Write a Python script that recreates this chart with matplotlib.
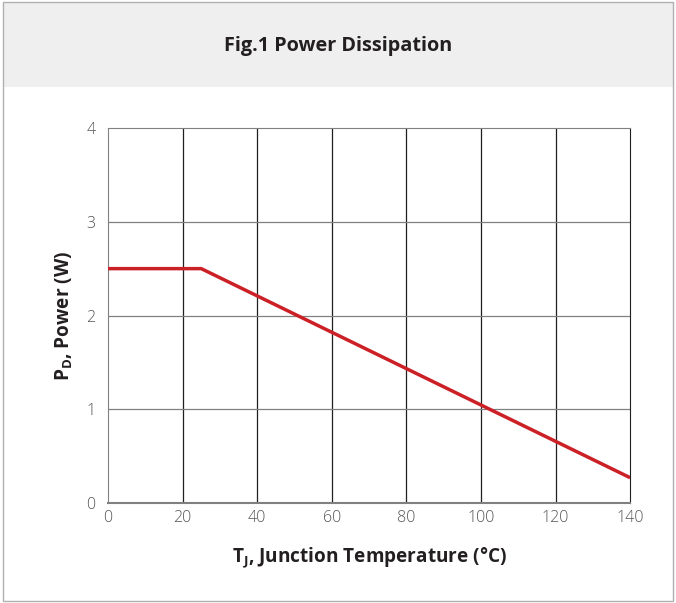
import matplotlib.pyplot as plt
from matplotlib.patches import Rectangle

# derating curve
temp_c = [0, 25, 140]
power_w = [2.5, 2.5, 0.27]
x_ticks = [0, 20, 40, 60, 80, 100, 120, 140]
y_ticks = [0, 1, 2, 3, 4]

plt.rcParams['font.family'] = ['Open Sans', 'DejaVu Sans']
plt.rcParams['mathtext.fontset'] = 'custom'
plt.rcParams['mathtext.bf'] = 'Open Sans:bold'
plt.rcParams['mathtext.rm'] = 'Open Sans'

fig = plt.figure(figsize=(6.76, 6.03), dpi=100)
fig.patch.set_facecolor('white')

# header band and outer frame
fig.patches.append(Rectangle((0.004, 0.856), 0.992, 0.14, transform=fig.transFigure,
                             facecolor='#efefef', edgecolor='none', zorder=0))
fig.patches.append(Rectangle((0.004, 0.004), 0.992, 0.992, transform=fig.transFigure,
                             facecolor='none', edgecolor='#b0b0b0', lw=1.0, zorder=1))
fig.text(0.5, 0.924, 'Fig.1 Power Dissipation', ha='center', va='center',
         fontsize=14.3, fontweight='bold', color='#231f20')

ax = fig.add_axes([0.1598, 0.1658, 0.7724, 0.6219])
ax.set_xlim(0, 140)
ax.set_ylim(0, 4)
ax.set_xticks(x_ticks)
ax.set_yticks(y_ticks)
ax.tick_params(length=0, labelsize=11.5, labelcolor='#555555')
ax.tick_params(axis='x', pad=5)
ax.tick_params(axis='y', pad=9)
for lab in ax.get_xticklabels() + ax.get_yticklabels():
    lab.set_fontweight('light')

for x in x_ticks[1:-1]:
    ax.axvline(x, color='#231f20', lw=0.9, zorder=1)
for y in y_ticks[1:-1]:
    ax.axhline(y, color='#808080', lw=0.9, zorder=1)

for side in ['left', 'top']:
    ax.spines[side].set_color('#808080')
ax.spines['bottom'].set_color('#808080')
ax.spines['bottom'].set_linewidth(1.5)
ax.spines['right'].set_color('#231f20')

ax.plot(temp_c, power_w, color='#cc2027', lw=2.5, zorder=3, solid_capstyle='butt')

ax.set_xlabel(r'$\mathbf{T_J}$, Junction Temperature (°C)', fontsize=13.7,
              fontweight='bold', color='#231f20', labelpad=14)
ax.set_ylabel(r'$\mathbf{P_D}$, Power (W)', fontsize=13.7,
              fontweight='bold', color='#231f20', labelpad=8)

fig.savefig('out.png', dpi=100)
